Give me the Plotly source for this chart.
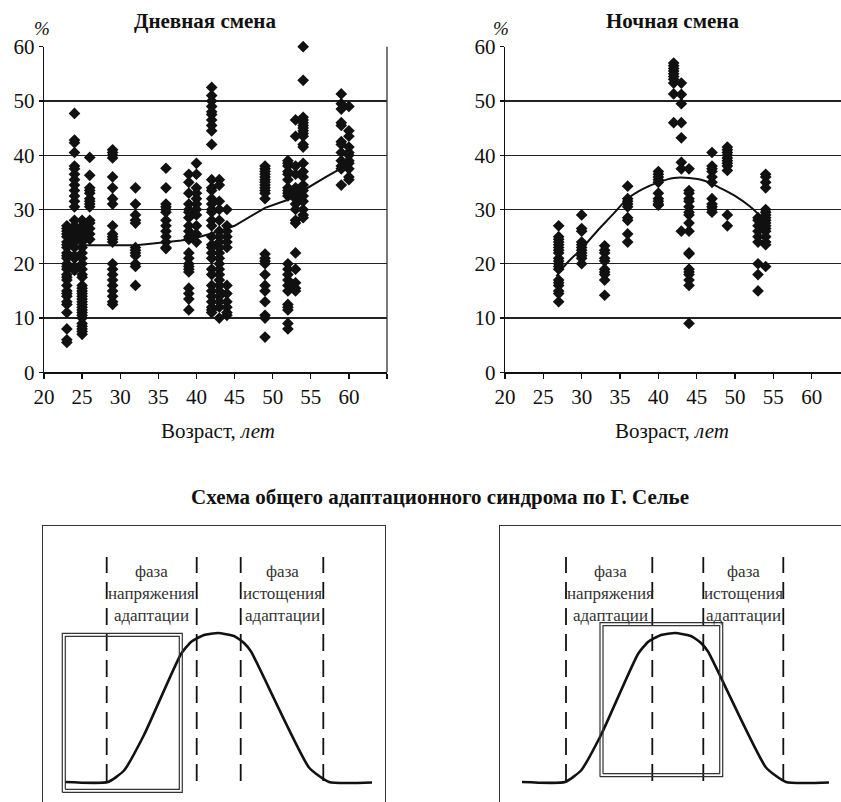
import plotly.graph_objects as go

# ---------------- data: day shift ----------------
day_ages = [23, 24, 25, 26, 29, 32, 36, 39, 40, 42, 43, 44, 49, 52, 53, 54, 59, 60]
day_values = [
    [27, 26.5, 26, 25.5, 25, 24, 23.5, 23, 22, 21.5, 21, 20, 19.5, 19, 18, 17.5, 17, 16, 15, 14.5, 14, 13, 12.5, 11, 8, 6, 5.5],
    [47.7, 42.8, 42.3, 40.5, 38, 37.5, 36.5, 35.5, 34.5, 33.5, 32.5, 31.5, 30.5, 28, 27, 26.5, 26, 25, 24.5, 24, 23, 21.5, 21, 19.5, 18.8],
    [28, 27, 26.5, 26, 25.5, 25, 24.5, 24, 23, 22, 21, 20, 19, 18, 17.5, 16, 15.5, 15, 14.5, 14, 13.5, 13, 12.5, 12, 11.5, 11, 10.5, 10, 9, 8.5, 8, 7.5, 7],
    [39.6, 36.3, 34, 33.5, 33, 32, 31.5, 31, 30.5, 28, 27.5, 26.5, 25.5, 24.5],
    [41, 40.5, 40, 39.5, 36, 34, 32, 31, 27, 25.5, 25, 24.5, 24, 20, 19, 18, 17, 16, 15, 14, 13, 12.5],
    [34, 31, 29, 28, 27.5, 23, 22.5, 22, 21.5, 20, 19.5, 16],
    [37.6, 34, 31, 30.5, 30, 29.5, 28, 27, 26, 25, 24, 23, 22.8],
    [36.5, 35, 33, 31, 30, 29.5, 28.5, 27, 26, 25, 24.5, 22, 21, 20, 19.5, 19, 18.5, 15.5, 14.5, 13.5, 11.5],
    [38.5, 36.5, 34, 33, 32, 31, 30, 29, 27, 25.5, 24],
    [52.5, 51, 50, 49, 48, 47.5, 46.5, 45.5, 44.5, 42, 35.5, 34, 33.5, 32, 31, 30, 29.5, 28, 27, 25, 23.5, 23, 22, 21, 19, 18, 16, 15, 14, 13, 12, 11.5, 11],
    [35.5, 34.5, 31.5, 30, 28, 26, 25, 24, 23, 22, 21, 20, 19, 18, 17, 16, 15, 14, 13, 12, 10],
    [30, 27, 26, 25, 24, 23, 16, 14.5, 13, 12, 11, 10.5],
    [38, 37.5, 37, 36.5, 36, 35.5, 35, 34.5, 34, 33.5, 33, 32, 21.8, 21, 20.5, 20, 18, 16, 15, 13, 10.5, 10, 6.5],
    [39, 38.5, 38, 37, 36.5, 35.5, 34, 33.5, 33, 32.5, 20, 19, 18, 17, 16, 15, 12.5, 12, 11.5, 9, 8],
    [46.5, 43.5, 38, 36.5, 34, 33, 32, 31, 30, 28, 27.5, 22, 19, 16.5, 15.5, 15],
    [60, 53.8, 47, 46.5, 46, 45.5, 45, 44.5, 44, 43.5, 42, 41.5, 38.5, 37, 36, 34.5, 33.5, 32.5, 31.5, 30, 29, 28.5],
    [51.3, 49.5, 48.5, 46, 45.5, 42.5, 42, 40.5, 39, 38, 37.5, 34.5],
    [49, 44.5, 43.5, 41.5, 40.5, 40, 39, 38.5, 37.5, 36, 35.5],
]
day_trend_x = [24.5, 32, 34, 38, 40, 43, 45, 49, 52, 54, 57, 59.5]
day_trend_y = [23.4, 23.4, 23.7, 24.3, 24.8, 26, 27, 30.3, 31.8, 33.5, 36, 38]

# ---------------- data: night shift ----------------
night_ages = [27, 30, 33, 36, 40, 42, 43, 44, 47, 49, 53, 54]
night_values = [
    [27, 25, 24.5, 24, 23.5, 23, 22.5, 22, 21, 20.5, 20, 19.5, 19, 17, 16.5, 16, 15, 14.5, 13],
    [29, 26.5, 26, 24, 23.5, 23, 22.5, 22, 21.5, 21, 20],
    [23.3, 22.5, 22, 21, 20.5, 19, 18.5, 18, 17, 14.2],
    [34.3, 32, 31.5, 31, 30.5, 28.5, 28, 25.5, 24],
    [37, 36.5, 36, 35.5, 35, 33, 32, 31.5, 31, 30.8],
    [57, 56.5, 56, 55.5, 55, 54.5, 54, 53.3, 51.3, 46],
    [53.3, 51.2, 49.5, 46, 43.2, 38.7, 37.5, 26],
    [37.5, 33.5, 33, 32, 31.5, 30.5, 29.5, 29, 27.5, 26, 22, 21.8, 19, 18.5, 18, 17, 16, 9],
    [40.5, 38, 37.5, 37, 36, 35, 32, 31, 30.5, 30, 29.5],
    [41.5, 41, 40.5, 40, 39.5, 39, 38.5, 38, 37.2, 29, 27],
    [28.5, 28, 27, 26, 25, 24, 20, 18, 15],
    [36.5, 36, 35, 34, 30, 29.5, 29, 28.5, 28, 27.5, 27, 26.5, 26, 25, 24, 23.5, 19.5],
]
night_trend_x = [26.7, 28, 30, 32, 34, 36, 38, 40, 42, 44, 46, 48, 50, 52, 53]
night_trend_y = [17.7, 20, 22.8, 26, 29, 32, 33.8, 35, 35.8, 35.8, 35.3, 34, 32.5, 30.5, 29.2]

x_ticks = [20, 25, 30, 35, 40, 45, 50, 55, 60]
y_ticks = [0, 10, 20, 30, 40, 50, 60]

# ---------------- data: Selye scheme (schematic units) ----------------
curve_t = [22, 65, 81, 101, 138, 148, 161, 175, 191, 201, 208, 266, 286, 329]
curve_level = [20, 20, 31.5, 67, 148, 160, 167, 169, 166, 159, 150.5, 34.5, 20, 19.5]
left_dashes = [63.7, 153.7, 197.7, 280.3]
right_dashes = [66, 152.3, 203.3, 283.3]
dash_span = [21, 245]
left_frame = [19.3, 139.3, 9.7, 168.7]     # x0, x1, y0, y1
right_frame = [100, 222.7, 25.3, 179.3]
left_phase_x = [108.7, 239.3]
right_phase_x = [110, 243.3]
phase_y = 209
phase_texts = ["фаза<br>напряжения<br>адаптации", "фаза<br>истощения<br>адаптации"]

W, H = 841, 802
def px(x):
    return x / W
def py(y):
    return 1 - y / H

SERIF = "Liberation Serif"
INK = "#111111"

fig = go.Figure()

def flatten(ages, vals):
    xs, ys = [], []
    for a, col in zip(ages, vals):
        for v in col:
            xs.append(a)
            ys.append(v)
    return xs, ys

dx, dy = flatten(day_ages, day_values)
nx, ny = flatten(night_ages, night_values)

mk = dict(symbol="diamond", size=9, color=INK, line=dict(width=0))
fig.add_trace(go.Scatter(x=dx, y=dy, mode="markers", marker=mk, xaxis="x", yaxis="y",
                         showlegend=False, cliponaxis=False))
fig.add_trace(go.Scatter(x=day_trend_x, y=day_trend_y, mode="lines", line=dict(color=INK, width=2),
                         xaxis="x", yaxis="y", showlegend=False))
fig.add_trace(go.Scatter(x=nx, y=ny, mode="markers", marker=mk, xaxis="x2", yaxis="y2",
                         showlegend=False, cliponaxis=False))
fig.add_trace(go.Scatter(x=night_trend_x, y=night_trend_y, mode="lines", line=dict(color=INK, width=2, shape="spline"),
                         xaxis="x2", yaxis="y2", showlegend=False))

# scheme panels
def add_panel(xa, ya, dashes, frame):
    fig.add_trace(go.Scatter(x=curve_t, y=curve_level, mode="lines",
                             line=dict(color=INK, width=2.6, shape="spline", smoothing=0.5),
                             xaxis=xa, yaxis=ya, showlegend=False))
    dxs, dys = [], []
    for d in dashes:
        dxs += [d, d, None]
        dys += [dash_span[0], dash_span[1], None]
    fig.add_trace(go.Scatter(x=dxs, y=dys, mode="lines",
                             line=dict(color=INK, width=1.8, dash="17px,9px"),
                             xaxis=xa, yaxis=ya, showlegend=False))
    x0, x1, y0, y1 = frame
    for off in (0, 3):
        fig.add_trace(go.Scatter(x=[x0 + off, x1 - off, x1 - off, x0 + off, x0 + off],
                                 y=[y0 + off, y0 + off, y1 - off, y1 - off, y0 + off],
                                 mode="lines", line=dict(color="#333333", width=1.2),
                                 xaxis=xa, yaxis=ya, showlegend=False))

add_panel("x3", "y3", left_dashes, left_frame)
add_panel("x4", "y4", right_dashes, right_frame)

tickfont = dict(family=SERIF, size=21, color=INK)
common_x = dict(showgrid=False, zeroline=False, showline=True, linecolor=INK, linewidth=1.3,
                ticks="outside", ticklen=5, tickwidth=1.3, tickcolor=INK, tickfont=tickfont,
                automargin=False)
common_y = dict(range=[0, 60], tickvals=y_ticks, showgrid=True, gridcolor="#222222", gridwidth=1.3,
                zeroline=False, showline=True, linecolor=INK, linewidth=1.3,
                ticks="outside", ticklen=4, tickwidth=1.3, tickcolor=INK, tickfont=tickfont,
                automargin=False)

blank = dict(showgrid=False, zeroline=False, showticklabels=False, ticks="", automargin=False)

fig.update_layout(
    template="none",
    width=W, height=H, margin=dict(l=0, r=0, t=0, b=0, pad=0), autosize=False,
    paper_bgcolor="white", plot_bgcolor="rgba(0,0,0,0)",
    xaxis=dict(domain=[px(44), px(387)], range=[20, 65], tickvals=x_ticks + [65],
               ticktext=[str(v) for v in x_ticks] + [""], anchor="y", **common_x),
    yaxis=dict(domain=[py(372.3), py(46.7)], anchor="x", **common_y),
    xaxis2=dict(domain=[px(505), 1.0], range=[20, 20 + 336 / 7.667], tickvals=x_ticks,
                anchor="y2", **common_x),
    yaxis2=dict(domain=[py(372.3), py(46.7)], anchor="x2", **common_y),
    xaxis3=dict(domain=[px(43), px(385)], range=[0, 342], anchor="y3", side="top",
                showline=True, linecolor="#333333", linewidth=1.3, **blank),
    yaxis3=dict(domain=[0, py(526)], range=[0, 276], anchor="x3", showline=True, mirror=True,
                linecolor="#333333", linewidth=1.3, **blank),
    xaxis4=dict(domain=[px(500), 1.0], range=[0, 341], anchor="y4", side="top",
                showline=True, linecolor="#333333", linewidth=1.3, **blank),
    yaxis4=dict(domain=[0, py(526)], range=[0, 276], anchor="x4", showline=True,
                linecolor="#333333", linewidth=1.3, **blank),
)

# right border of day chart
fig.add_shape(type="line", xref="x domain", yref="y domain", x0=1, x1=1, y0=0, y1=1,
              line=dict(color="#333333", width=1.3))

def text(x, y, s, size, bold=False, color=INK):
    fig.add_annotation(x=x, y=y, xref="paper", yref="paper", text=(f"<b>{s}</b>" if bold else s),
                       showarrow=False, font=dict(family=SERIF, size=size, color=color),
                       xanchor="center", yanchor="middle")

text(px(204.5), py(21), "Дневная смена", 21, bold=True)
text(px(672), py(21), "Ночная смена", 21, bold=True)
text(px(42), py(28), "<i>%</i>", 19)
text(px(501), py(28), "<i>%</i>", 19)
text(px(217.5), py(431), "Возраст, <i>лет</i>", 21)
text(px(672), py(431), "Возраст, <i>лет</i>", 21)
text(px(440), py(497), "Схема общего адаптационного синдрома по Г. Селье", 21, bold=True)

for xs, xa, ya in ((left_phase_x, "x3", "y3"), (right_phase_x, "x4", "y4")):
    for xv, s in zip(xs, phase_texts):
        fig.add_annotation(x=xv, y=phase_y, xref=xa, yref=ya, text=s, showarrow=False,
                           font=dict(family=SERIF, size=17, color="#333333"),
                           xanchor="center", yanchor="middle")

fig.write_html("out.html", config={"displayModeBar": False, "staticPlot": True},
               post_script="document.body.style.margin='0px';document.body.style.overflow='hidden';")
